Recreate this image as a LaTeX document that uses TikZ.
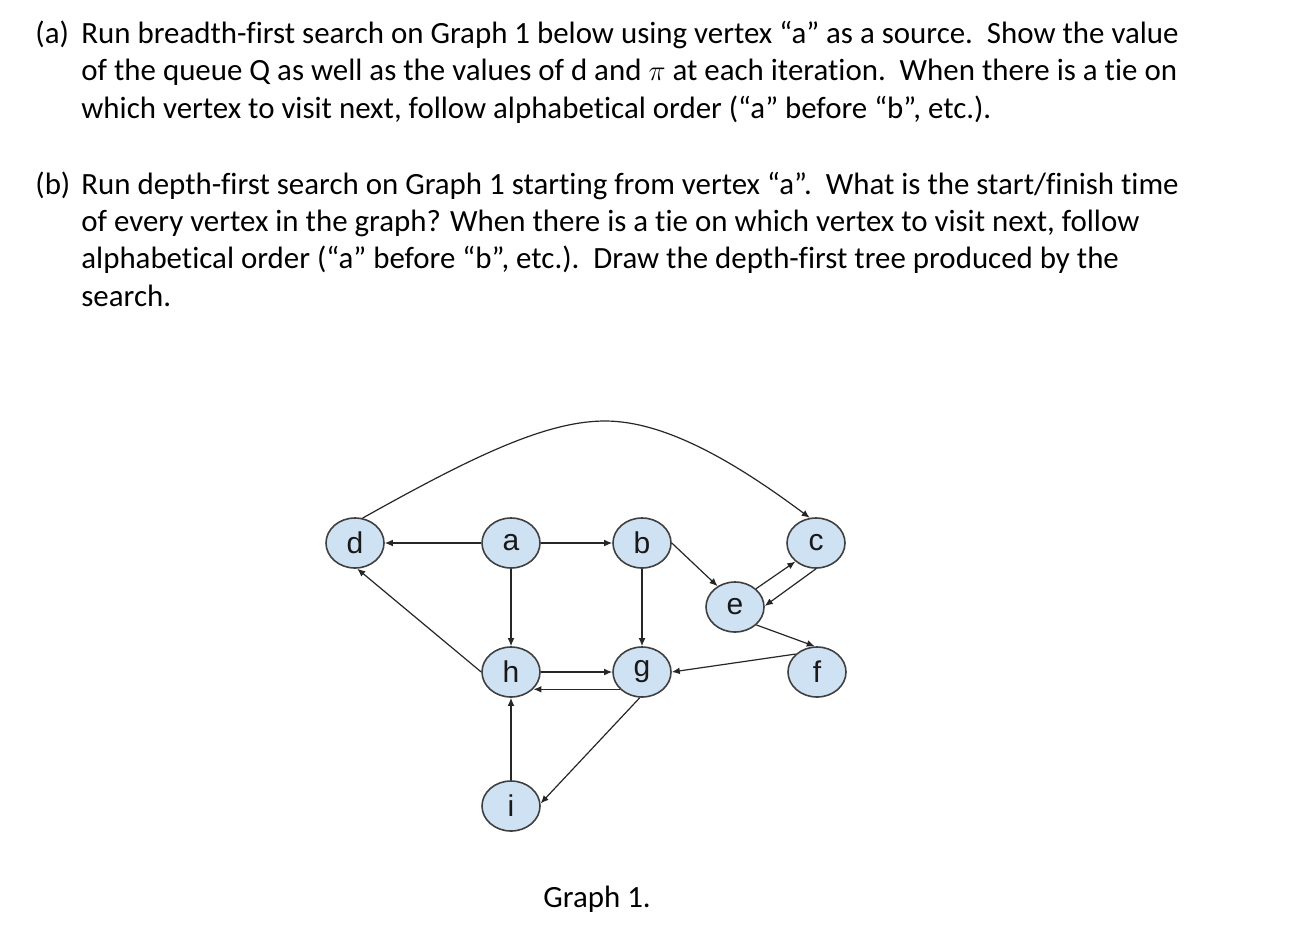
\documentclass[tikz,border=0pt]{standalone}
\usepackage{fontspec}
\setmainfont{Carlito}[Ligatures=NoCommon]
\newfontfamily\arialfont{Liberation Sans}
\usetikzlibrary{arrows.meta,shapes.geometric}
\definecolor{nodeblue}{HTML}{CFE2F3}
\begin{document}
\begin{tikzpicture}[x=0.5pt,y=-0.5pt,
  vtx/.style={ellipse, draw=black!75, line width=0.8pt, fill=nodeblue,
    minimum width=29pt, minimum height=25pt, inner sep=0pt,
    font=\arialfont\fontsize{15}{17}\selectfont, text=black!90},
  edge/.style={draw=black!85, line width=0.6pt, -{Latex[length=4pt,width=3.4pt]}},
  txt/.style={anchor=base west, inner sep=0pt, font=\fontsize{15.45}{18}\selectfont}]
\path[use as bounding box] (0,0) rectangle (1300,948);

% question text
\node[txt] (la)  at (35,43)  {(a)};
\node[txt] (a1)  at (81,43)  {Run breadth-first search on Graph 1 below using vertex “a” as a source.\ \ Show the value};
\node[txt] (a2)  at (81,80)  {of the queue Q as well as the values of d and $\pi$ at each iteration.\ \ When there is a tie on};
\node[txt] (a3)  at (81,118) {which vertex to visit next, follow alphabetical order (“a” before “b”, etc.).};
\node[txt] (lb)  at (35,194) {(b)};
\node[txt] (b1)  at (81,194) {Run depth-first search on Graph 1 starting from vertex “a”.\ \ What is the start/finish time};
\node[txt] (b2)  at (81,231) {of every vertex in the graph? When there is a tie on which vertex to visit next, follow};
\node[txt] (b3)  at (81,268) {alphabetical order (“a” before “b”, etc.).\ \ Draw the depth-first tree produced by the};
\node[txt] (b4)  at (81,306) {search.};
\node[txt] (cap) at (543,907) {Graph 1.};

% vertices
\node[vtx] (d) at (355,543) {d};
\node[vtx] (a) at (511,543) {a};
\node[vtx] (b) at (642,543) {b};
\node[vtx] (c) at (816,543) {c};
\node[vtx] (e) at (735,607) {e};
\node[vtx] (h) at (511,672) {h};
\node[vtx] (g) at (642,672) {g};
\node[vtx] (f) at (817,672) {f};
\node[vtx] (i) at (511,806) {i};
\coordinate (top) at (605,421);

% edges
\draw[edge] (a.west) -- (d.east);
\draw[edge] (a.east) -- (b.west);
\draw[edge] (a.south) -- (h.north);
\draw[edge] (h.west) -- (d.-85);
\draw[edge] (b.south) -- (g.north);
\draw[edge] (b.east) -- (e.130);
\draw[edge] (e.41) -- (c.222);
\draw[edge] (c.270) -- (e.2);
\draw[edge] (e.-40) -- (f.95);
\draw[edge] (f.140) -- (g.east);
\draw[edge] (h.east) -- (g.west);
\draw[edge] (g.218) -- (h.-37 |- g.218);
\draw[edge] (g.-95) -- (i.5);
\draw[edge] (i.north) -- (h.south);
\draw[edge] (d.73) .. controls (470,458) and (545,421) .. (top)
  .. controls (665,421) and (735,462) .. (c.104);
\end{tikzpicture}
\end{document}
